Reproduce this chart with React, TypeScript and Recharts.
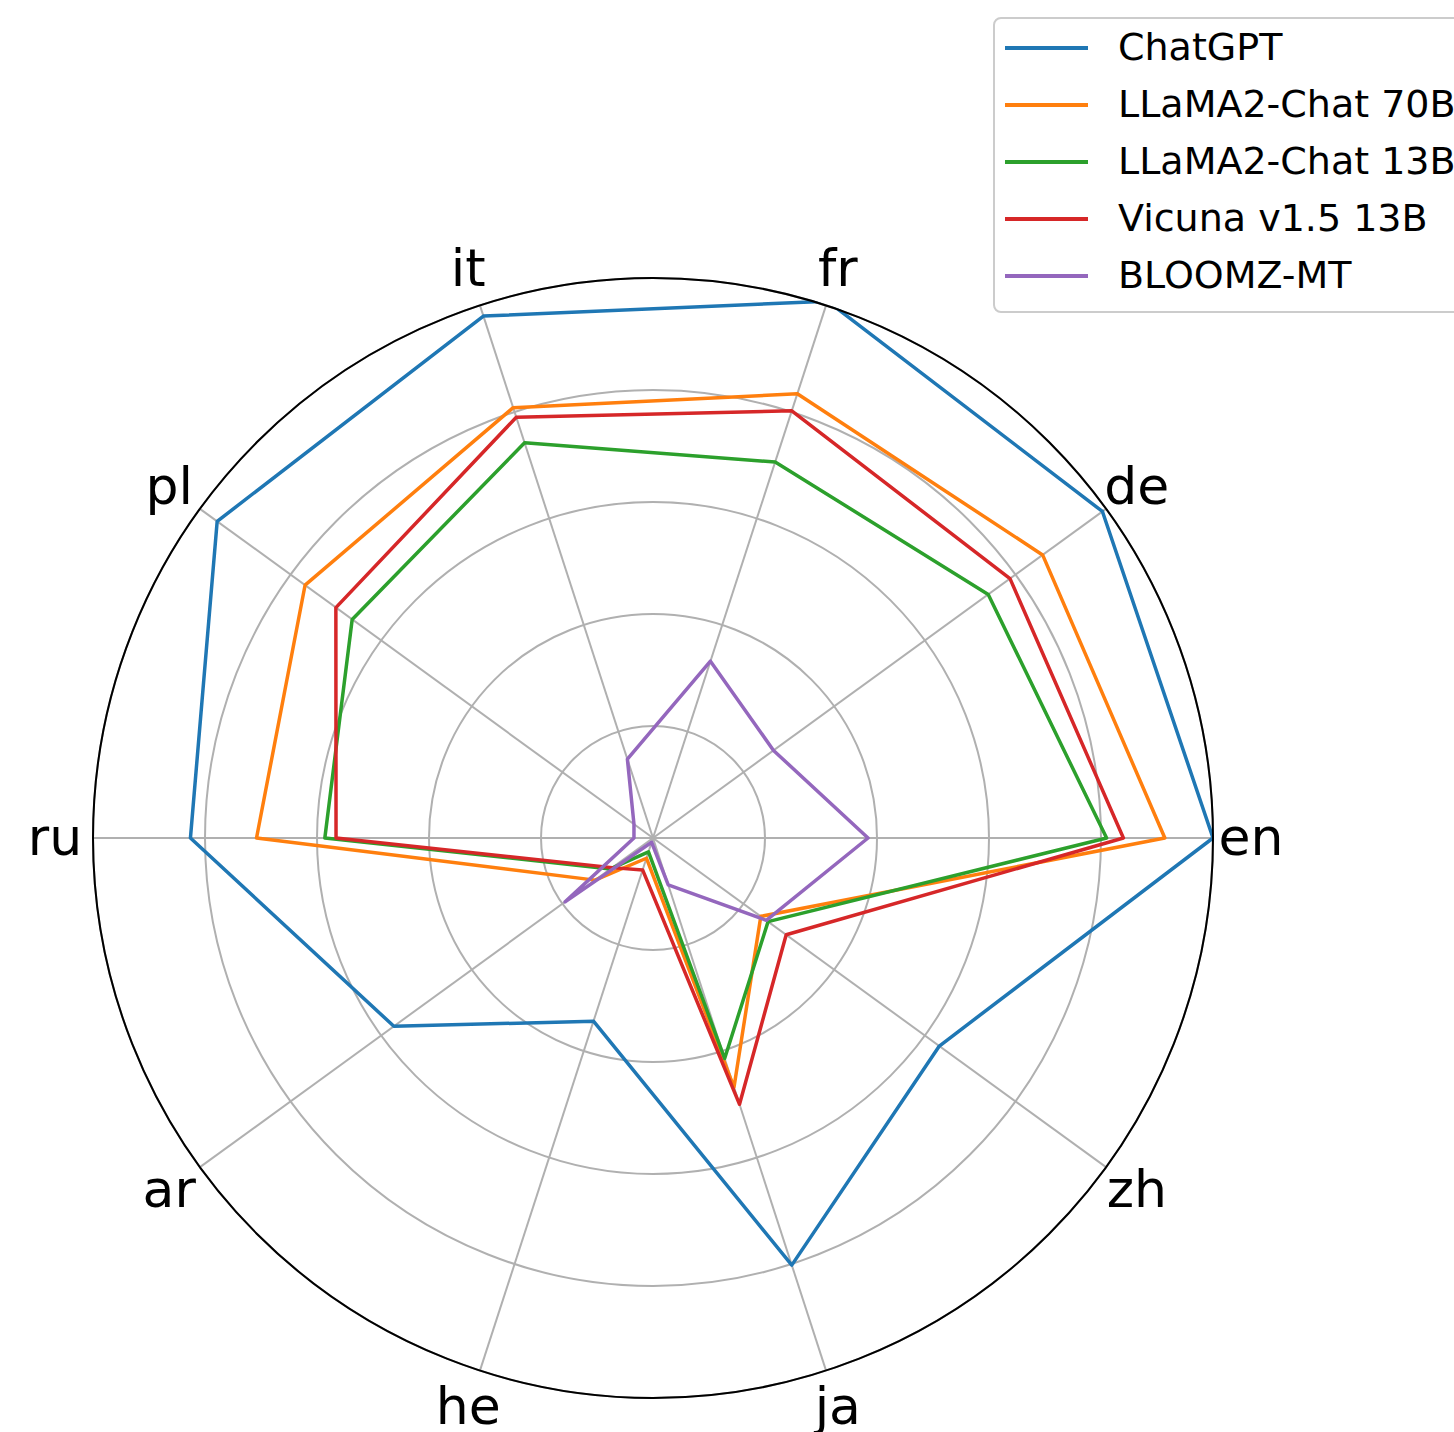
import { PolarAngleAxis, PolarGrid, PolarRadiusAxis, Radar, RadarChart } from "recharts";

const CX = 653;
const CY = 838;
const OUTER = 560;
const LABEL_R = 598;

// languages listed clockwise starting from the right (en), as the chart walks them
const languages = ["en", "zh", "ja", "he", "ar", "ru", "pl", "it", "fr", "de"];

// scores, outer ring = 50
const chatgpt = [50.0, 31.6, 40.1, 17.2, 28.6, 41.3, 48.1, 49.0, 50.4, 49.6];
const llama70b = [45.7, 11.9, 23.4, 1.9, 6.4, 35.4, 38.4, 40.4, 41.7, 43.0];
const llama13b = [40.5, 12.7, 20.7, 1.3, 4.7, 29.3, 33.2, 37.1, 35.3, 37.0];
const vicuna = [42.0, 14.7, 25.0, 3.0, 4.5, 28.3, 35.0, 39.5, 40.1, 39.4];
const bloomz = [19.2, 12.5, 4.4, 0.4, 9.7, 1.7, 2.1, 7.4, 16.6, 13.3];

const series = [
  { key: "chatgpt", name: "ChatGPT", color: "#1f77b4", values: chatgpt },
  { key: "llama70b", name: "LLaMA2-Chat 70B", color: "#ff7f0e", values: llama70b },
  { key: "llama13b", name: "LLaMA2-Chat 13B", color: "#2ca02c", values: llama13b },
  { key: "vicuna", name: "Vicuna v1.5 13B", color: "#d62728", values: vicuna },
  { key: "bloomz", name: "BLOOMZ-MT", color: "#9467bd", values: bloomz },
];

const data = languages.map((lang, i) => {
  const row: Record<string, string | number> = { lang };
  series.forEach((s) => {
    row[s.key] = s.values[i];
  });
  return row;
});

function AngleTick(props: any) {
  const { x, y, payload } = props;
  const cx = props.cx ?? CX;
  const cy = props.cy ?? CY;
  const dx = x - cx;
  const dy = y - cy;
  const d = Math.hypot(dx, dy) || 1;
  return (
    <text
      x={cx + (dx / d) * LABEL_R}
      y={cy + (dy / d) * LABEL_R}
      dy="0.33em"
      textAnchor="middle"
      fontSize={52}
      fontFamily="DejaVu Sans"
      fill="#000"
    >
      {payload.value}
    </text>
  );
}

function LegendBox() {
  return (
    <div
      style={{
        position: "absolute",
        left: 993,
        top: 17,
        width: 540,
        height: 292,
        border: "2px solid #cccccc",
        borderRadius: 8,
        background: "rgba(255,255,255,0.8)",
        fontFamily: "DejaVu Sans",
        fontSize: 38,
        color: "#000",
        boxSizing: "content-box",
      }}
    >
      {series.map((s) => (
        <div key={s.key} style={{ display: "flex", alignItems: "center", height: 57 }}>
          <div style={{ marginLeft: 10, width: 83, height: 4, background: s.color }} />
          <span style={{ marginLeft: 30, whiteSpace: "nowrap", lineHeight: "57px" }}>{s.name}</span>
        </div>
      ))}
    </div>
  );
}

export default function App() {
  return (
    <div
      style={{
        position: "absolute",
        left: 0,
        top: 0,
        width: 1454,
        height: 1432,
        overflow: "hidden",
        background: "#fff",
      }}
    >
      <RadarChart
        width={1454}
        height={1432}
        data={data}
        cx={CX}
        cy={CY}
        outerRadius={OUTER}
        startAngle={0}
        endAngle={-360}
        margin={{ top: 0, right: 0, bottom: 0, left: 0 }}
      >
        <defs>
          <clipPath id="rim">
            <circle cx={CX} cy={CY} r={OUTER + 1} />
          </clipPath>
        </defs>
        <PolarGrid gridType="circle" stroke="#b0b0b0" strokeWidth={2} />
        <PolarRadiusAxis
          angle={0}
          domain={[0, 50]}
          tickCount={6}
          allowDataOverflow
          tick={false}
          axisLine={false}
        />
        <PolarAngleAxis
          dataKey="lang"
          tick={AngleTick}
          tickLine={false}
          axisLineType="circle"
          axisLine={{ stroke: "#000", strokeWidth: 2 }}
        />
        {series.map((s) => (
          <Radar
            key={s.key}
            name={s.name}
            dataKey={s.key}
            stroke={s.color}
            strokeWidth={3.5}
            strokeLinejoin="round"
            fill="none"
            fillOpacity={0}
            dot={false}
            clipPath="url(#rim)"
            isAnimationActive={false}
          />
        ))}
      </RadarChart>
      <LegendBox />
    </div>
  );
}
